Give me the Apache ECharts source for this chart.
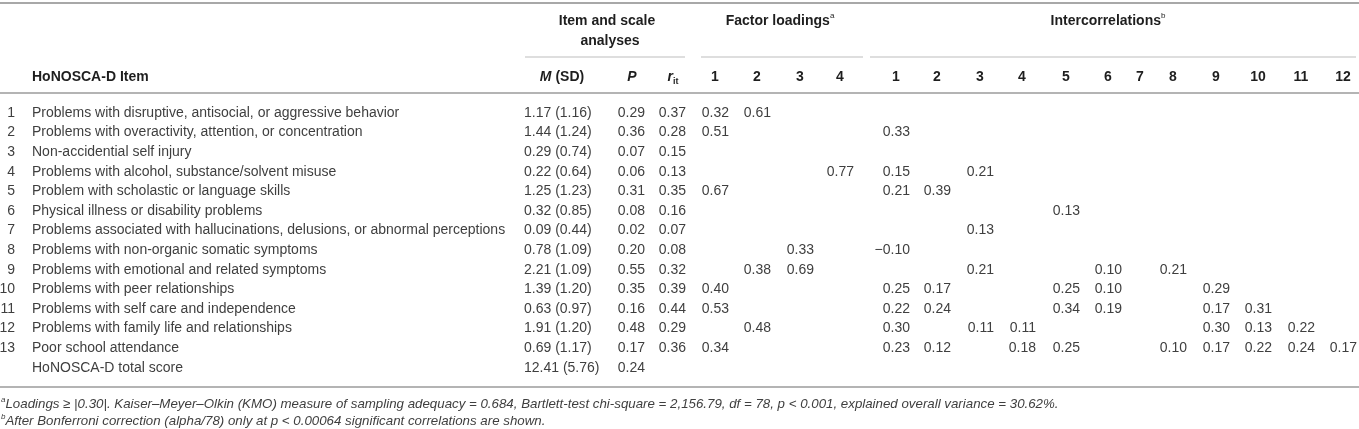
<!DOCTYPE html>
<html>
<head>
<meta charset="utf-8">
<script src="https://cdn.jsdelivr.net/npm/echarts@6/dist/echarts.min.js"></script>
<style>
  html, body { margin: 0; padding: 0; background: #fff; }
  #main { width: 1359px; height: 429px; }
</style>
</head>
<body>
<div id="main"></div>
<script>
// ---- table data ----
var itemNo = ['1', '2', '3', '4', '5', '6', '7', '8', '9', '10', '11', '12', '13', ''];
var items = [
  'Problems with disruptive, antisocial, or aggressive behavior',
  'Problems with overactivity, attention, or concentration',
  'Non-accidential self injury',
  'Problems with alcohol, substance/solvent misuse',
  'Problem with scholastic or language skills',
  'Physical illness or disability problems',
  'Problems associated with hallucinations, delusions, or abnormal perceptions',
  'Problems with non-organic somatic symptoms',
  'Problems with emotional and related symptoms',
  'Problems with peer relationships',
  'Problems with self care and independence',
  'Problems with family life and relationships',
  'Poor school attendance',
  'HoNOSCA-D total score'
];
var mean = [1.17, 1.44, 0.29, 0.22, 1.25, 0.32, 0.09, 0.78, 2.21, 1.39, 0.63, 1.91, 0.69, 12.41];
var sd   = [1.16, 1.24, 0.74, 0.64, 1.23, 0.85, 0.44, 1.09, 1.09, 1.20, 0.97, 1.20, 1.17, 5.76];
var pVal = [0.29, 0.36, 0.07, 0.06, 0.31, 0.08, 0.02, 0.20, 0.55, 0.35, 0.16, 0.48, 0.17, 0.24];
var rit  = [0.37, 0.28, 0.15, 0.13, 0.35, 0.16, 0.07, 0.08, 0.32, 0.39, 0.44, 0.29, 0.36, null];

var factor1 = [0.32, 0.51, null, null, 0.67, null, null, null, null, 0.40, 0.53, null, 0.34, null];
var factor2 = [0.61, null, null, null, null, null, null, null, 0.38, null, null, 0.48, null, null];
var factor3 = [null, null, null, null, null, null, null, 0.33, 0.69, null, null, null, null, null];
var factor4 = [null, null, null, 0.77, null, null, null, null, null, null, null, null, null, null];

// intercorrelations, one array per item row (columns 1..12)
var intercorr = [
  [],
  [0.33],
  [],
  [0.15, null, 0.21],
  [0.21, 0.39],
  [null, null, null, null, 0.13],
  [null, null, 0.13],
  [-0.10],
  [null, null, 0.21, null, null, 0.10, null, 0.21],
  [0.25, 0.17, null, null, 0.25, 0.10, null, null, 0.29],
  [0.22, 0.24, null, null, 0.34, 0.19, null, null, 0.17, 0.31],
  [0.30, null, 0.11, 0.11, null, null, null, null, 0.30, 0.13, 0.22],
  [0.23, 0.12, null, 0.18, 0.25, null, null, 0.10, 0.17, 0.22, 0.24, 0.17],
  []
];
var factorCols = ['1', '2', '3', '4'];
var corrCols = ['1', '2', '3', '4', '5', '6', '7', '8', '9', '10', '11', '12'];

// ---- layout ----
var W = 1359;
var FONT = '"Liberation Sans", Arial, sans-serif';
var BODY = '#3f3f3f';
var HEAD = '#1e1e1e';
var factorRight = [729, 771, 814, 854];
var corrRight = [910, 951, 994, 1036, 1080, 1122, 1154, 1187, 1230, 1272, 1315, 1357];

function fmt(v) {
  if (v === null || v === undefined) return null;
  var s = Math.abs(v).toFixed(2);
  return v < 0 ? '\u2212' + s : s;
}

function textSeries(texts, x, align) {
  var cells = [];
  texts.forEach(function (t, i) {
    if (t !== null && t !== '') cells.push({ value: [x, i], text: t });
  });
  return {
    type: 'custom',
    coordinateSystem: 'cartesian2d',
    silent: true,
    clip: false,
    data: cells.map(function (c) { return c.value; }),
    renderItem: function (params, api) {
      var pt = api.coord([api.value(0), api.value(1)]);
      return {
        type: 'text',
        x: pt[0],
        y: pt[1],
        style: {
          text: cells[params.dataIndex].text,
          align: align,
          verticalAlign: 'middle',
          fill: BODY,
          fontSize: 14,
          fontFamily: FONT
        }
      };
    }
  };
}

var series = [
  textSeries(itemNo, 15, 'right'),
  textSeries(items, 32, 'left'),
  textSeries(mean.map(function (m, i) { return m.toFixed(2) + ' (' + sd[i].toFixed(2) + ')'; }), 524, 'left'),
  textSeries(pVal.map(fmt), 645, 'right'),
  textSeries(rit.map(fmt), 686, 'right')
];
[factor1, factor2, factor3, factor4].forEach(function (f, k) {
  series.push(textSeries(f.map(fmt), factorRight[k], 'right'));
});
corrCols.forEach(function (c, k) {
  series.push(textSeries(intercorr.map(function (row) { return fmt(row[k]); }), corrRight[k], 'right'));
});

// ---- header, rules and footnotes ----
var rich = {
  b: { fontWeight: 'bold', fontSize: 14, fontFamily: FONT, fill: HEAD, lineHeight: 18 },
  bi: { fontWeight: 'bold', fontStyle: 'italic', fontSize: 14, fontFamily: FONT, fill: HEAD, lineHeight: 18 },
  sup: { fontSize: 8, fontFamily: FONT, fill: HEAD, verticalAlign: 'top', lineHeight: 18 },
  sub: { fontWeight: 'bold', fontSize: 9, fontFamily: FONT, fill: HEAD, verticalAlign: 'bottom', lineHeight: 14 },
  i: { fontStyle: 'italic', fontSize: 13.3, fontFamily: FONT, fill: BODY, lineHeight: 16 },
  fs: { fontStyle: 'italic', fontSize: 8, fontFamily: FONT, fill: BODY, verticalAlign: 'top', lineHeight: 16 }
};

function head(text, x, y, align) {
  return {
    type: 'text', x: x, y: y, silent: true,
    style: { text: text, rich: rich, align: align || 'center', verticalAlign: 'middle' }
  };
}
function rule(x1, x2, y, color, w) {
  return {
    type: 'line', silent: true,
    shape: { x1: x1, y1: y, x2: x2, y2: y },
    style: { stroke: color, lineWidth: w }
  };
}

var graphics = [
  rule(0, W, 3, '#a8a8a8', 2),
  rule(0, W, 93, '#b4b4b4', 2),
  rule(0, W, 387, '#b4b4b4', 2),
  rule(525, 685, 57, '#bdbdbd', 1),
  rule(701, 863, 57, '#bdbdbd', 1),
  rule(870, 1356, 57, '#bdbdbd', 1),
  head('{b|Item and scale}', 607, 21),
  head('{b|analyses}', 610, 41),
  head('{b|Factor loadings}{sup|a}', 780, 21),
  head('{b|Intercorrelations}{sup|b}', 1108, 21),
  head('{b|HoNOSCA-D Item}', 32, 77, 'left'),
  head('{bi|M}{b| (SD)}', 562, 77),
  head('{bi|P}', 632, 77),
  head('{bi|r}{sub|it}', 673, 77),
  head('{fs|a}{i|Loadings \u2265 |0.30|. Kaiser\u2013Meyer\u2013Olkin (KMO) measure of sampling adequacy = 0.684, Bartlett-test chi-square = 2,156.79, df = 78, p < 0.001, explained overall variance = 30.62%.}', 1, 404, 'left'),
  head('{fs|b}{i|After Bonferroni correction (alpha/78) only at p < 0.00064 significant correlations are shown.}', 1, 421, 'left')
];
factorCols.forEach(function (c, k) {
  graphics.push(head('{b|' + c + '}', factorRight[k] - 14, 77));
});
corrCols.forEach(function (c, k) {
  graphics.push(head('{b|' + c + '}', corrRight[k] - 14, 77));
});

var chart = echarts.init(document.getElementById('main'), null, { renderer: 'canvas' });
chart.setOption({
  animation: false,
  backgroundColor: '#fff',
  grid: { left: 0, right: 0, top: 103.2, height: 274.4 },
  xAxis: { type: 'value', min: 0, max: W, show: false },
  yAxis: {
    type: 'category',
    inverse: true,
    show: false,
    data: itemNo.map(function (n, i) { return 'row' + i; })
  },
  graphic: { elements: graphics },
  series: series
});
</script>
</body>
</html>
